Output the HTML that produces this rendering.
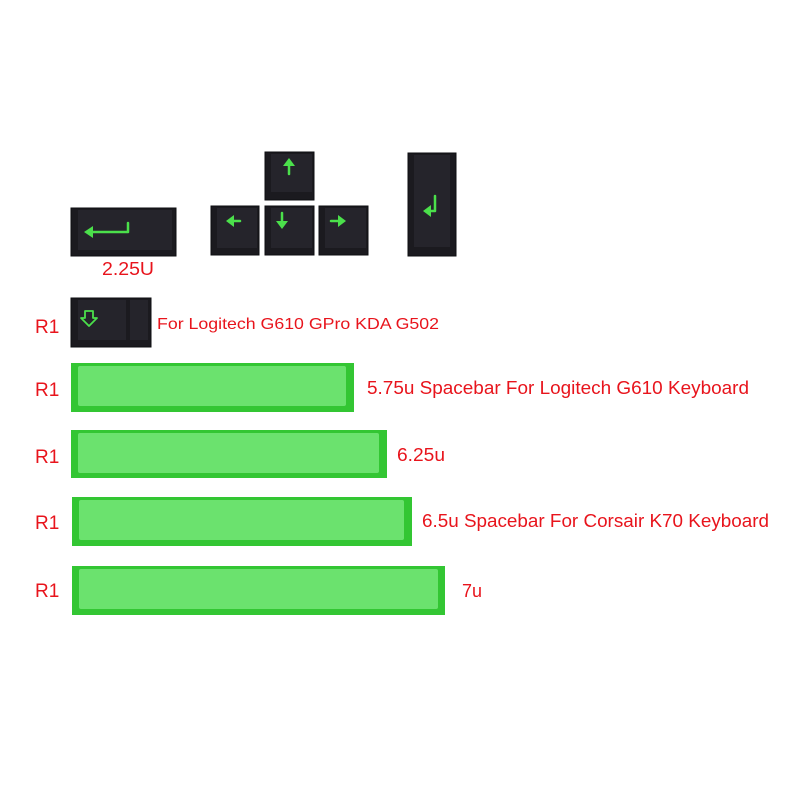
<!DOCTYPE html>
<html><head><meta charset="utf-8"><style>
html,body{margin:0;padding:0;background:#fff}
</style></head><body>
<svg width="800" height="800" viewBox="0 0 800 800" xmlns="http://www.w3.org/2000/svg" font-family="Liberation Sans, sans-serif">
<rect width="800" height="800" fill="#fff"/>
<g fill="#1b1a1f" stroke="#0e0e10" stroke-width="1">
<rect x="71" y="208" width="105" height="48"/>
<rect x="265" y="152" width="49" height="48"/>
<rect x="211" y="206" width="48" height="49"/>
<rect x="265" y="206" width="49" height="49"/>
<rect x="319" y="206" width="49" height="49"/>
<rect x="408" y="153" width="48" height="103"/>
<rect x="71" y="298" width="80" height="49"/>
</g>
<g fill="#25242b">
<rect x="78" y="210" width="94" height="40"/>
<rect x="271" y="154" width="41" height="38"/>
<rect x="217" y="208" width="40" height="40"/>
<rect x="271" y="208" width="41" height="40"/>
<rect x="325" y="208" width="41" height="40"/>
<rect x="414" y="155" width="36" height="92"/>
<rect x="78" y="300" width="48" height="40"/>
<rect x="130" y="300" width="18" height="40"/>
</g>
<g stroke="#4be04b" stroke-width="2.5" fill="none" stroke-linecap="round" stroke-linejoin="round">
<path d="M128 223 V232 H92"/>
<path d="M289 174 V164"/>
<path d="M240 221 H232"/>
<path d="M282 213 V223"/>
<path d="M331 221 H340"/>
<path d="M435 196 V211 H430"/>
<path d="M85 311 V318 H81 L89 326 L97 318 H93 V311 Z" stroke-width="1.8"/>
</g>
<g fill="#4be04b">
<path d="M84 232 L93 226 V238 Z"/>
<path d="M289 158 L283 166 H295 Z"/>
<path d="M226 221 L234 215 V227 Z"/>
<path d="M282 229 L276 221 H288 Z"/>
<path d="M346 221 L338 215 V227 Z"/>
<path d="M423 211 L431 205 V217 Z"/>
</g>
<g>
<rect x="71" y="363" width="283" height="49" fill="#33c633"/>
<rect x="78" y="366" width="268" height="40" rx="2" fill="#6be26e"/>
<rect x="71" y="430" width="316" height="48" fill="#33c633"/>
<rect x="78" y="433" width="301" height="40" rx="2" fill="#6be26e"/>
<rect x="72" y="497" width="340" height="49" fill="#33c633"/>
<rect x="79" y="500" width="325" height="40" rx="2" fill="#6be26e"/>
<rect x="72" y="566" width="373" height="49" fill="#33c633"/>
<rect x="79" y="569" width="359" height="40" rx="2" fill="#6be26e"/>
</g>
<g fill="#e8141c" font-size="18">
<text x="102" y="275" textLength="52" lengthAdjust="spacingAndGlyphs">2.25U</text>
<text x="157" y="329" font-size="16" textLength="282" lengthAdjust="spacingAndGlyphs">For Logitech G610  GPro KDA G502</text>
<g font-size="19">
<text x="35" y="333">R1</text>
<text x="35" y="396">R1</text>
<text x="35" y="463">R1</text>
<text x="35" y="529">R1</text>
<text x="35" y="597">R1</text>
</g>
<text x="367" y="394" textLength="382" lengthAdjust="spacingAndGlyphs">5.75u Spacebar For Logitech G610 Keyboard</text>
<text x="397" y="461" textLength="48" lengthAdjust="spacingAndGlyphs">6.25u</text>
<text x="422" y="527" textLength="347" lengthAdjust="spacingAndGlyphs">6.5u Spacebar For Corsair K70 Keyboard</text>
<text x="462" y="597">7u</text>
</g>
</svg>
</body></html>
